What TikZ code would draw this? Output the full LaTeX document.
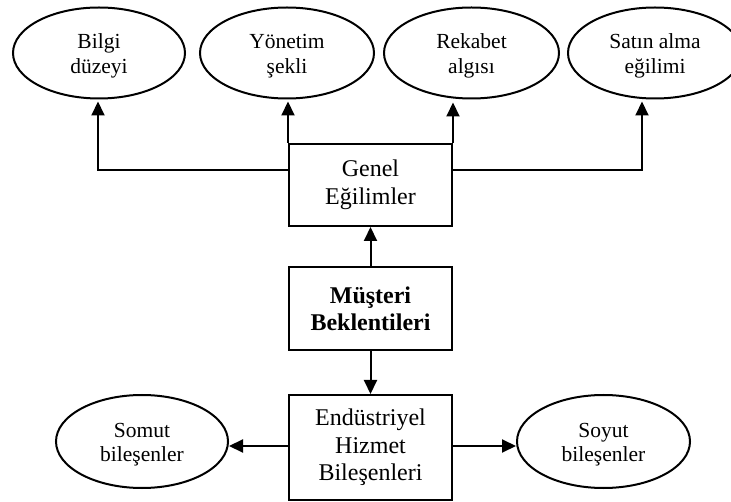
\documentclass[tikz,border=0pt]{standalone}
\usepackage{fontspec}
\setmainfont{Liberation Serif}
\usetikzlibrary{shapes.geometric,arrows.meta}
\begin{document}
\begin{tikzpicture}[x=1pt,y=1pt,
  every node/.style={inner sep=0pt,align=center},
  ovaltext/.style={yshift=-3pt,font=\fontsize{21.5}{24.5}\selectfont},
  oval/.style={draw,ellipse,line width=2pt,minimum width=173pt,minimum height=91pt,
    label={[ovaltext]center:#1}},
  lowoval/.style={oval={#1},minimum width=172pt,minimum height=93pt},
  boxnode/.style={draw,rectangle,line width=2pt,minimum width=163pt,font=\fontsize{24}{27.5}\selectfont},
  conn/.style={line width=2pt},
  arr/.style={conn,-{Triangle[length=14pt,width=13pt]}}
]
\useasboundingbox (0,0) rectangle (731,-502);
% top ovals
\node[oval={Bilgi\\düzeyi},minimum width=172pt] (bil) at (99,-53) {};
\node[oval={Yönetim\\şekli},minimum width=174pt] (yon) at (287,-53) {};
\node[oval={Rekabet\\algısı},minimum width=175pt] (rek) at (471.5,-53) {};
\node[oval={Satın alma\\eğilimi},minimum width=174pt] (sat) at (655,-53) {};
% boxes
\node[boxnode,minimum height=82pt] (gen) at (370.5,-185) {Genel\\Eğilimler};
\node[boxnode,minimum height=83pt,font=\fontsize{24}{27}\selectfont\bfseries] (mus) at (370.5,-308.5) {Müşteri\\Beklentileri};
\node[boxnode,minimum height=105pt] (end) at (370.5,-447.5) {Endüstriyel\\Hizmet\\Bileşenleri};
% bottom ovals
\node[lowoval={Somut\\bileşenler}] (som) at (142,-441.5) {};
\node[lowoval={Soyut\\bileşenler},minimum width=173pt] (soy) at (603.5,-441.5) {};
% connector anchors
\coordinate (gl) at ([yshift=15pt]gen.west);
\coordinate (gr) at ([yshift=15pt]gen.east);
\coordinate (bt) at ([xshift=-1pt,yshift=-2pt]bil.south);
\coordinate (st) at ([xshift=-13pt,yshift=-2pt]sat.south);
\coordinate (el) at ([yshift=1.5pt]end.west);
\coordinate (er) at ([yshift=1.5pt]end.east);
% connectors
\draw[arr] (gl) -| (bt);
\draw[arr] (gr) -| (st);
\draw[arr] (gen.north west) -- ([yshift=-2pt]gen.north west |- yon.south);
\draw[arr] (gen.north east) -- ([yshift=-3pt]gen.north east |- rek.south);
\draw[arr] (mus) -- (gen);
\draw[arr] (mus) -- (end);
\draw[arr] (el) -- (el -| som.east);
\draw[arr] (er) -- (er -| soy.west);
\end{tikzpicture}
\end{document}
